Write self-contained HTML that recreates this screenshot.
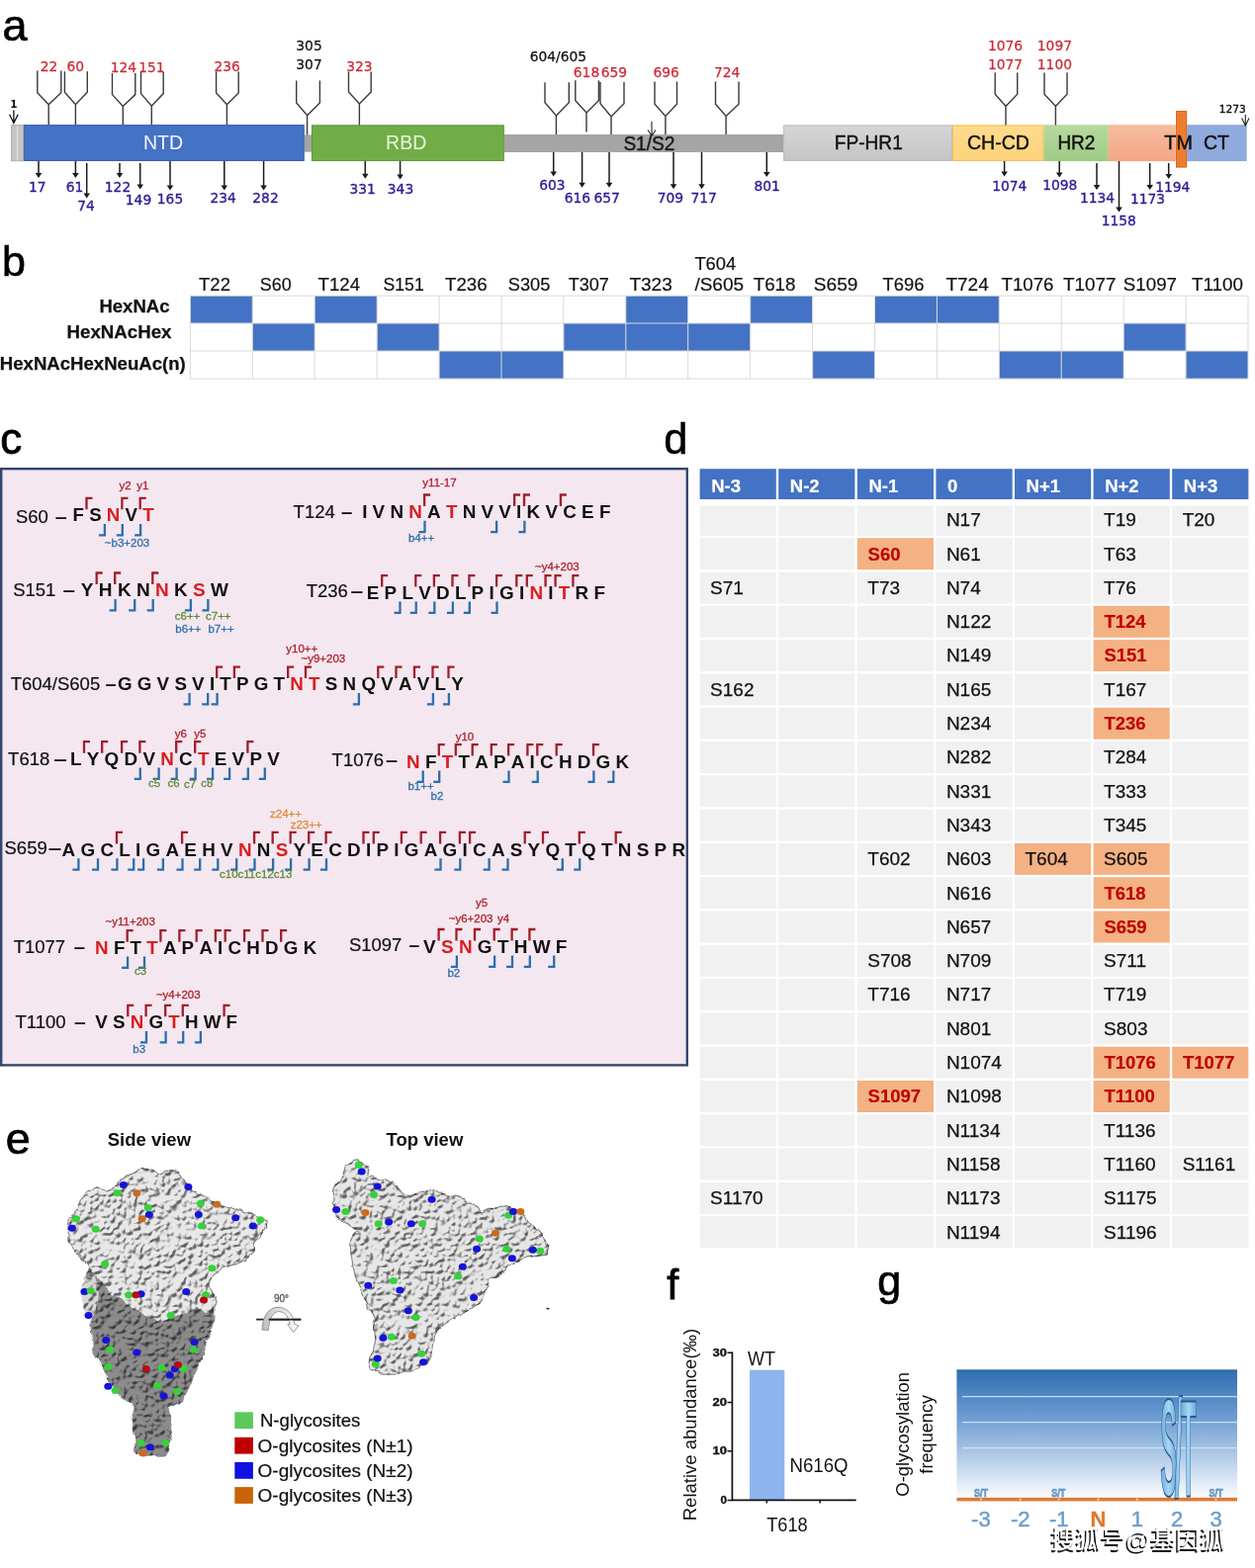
<!DOCTYPE html>
<html><head><meta charset="utf-8"><title>Figure</title>
<style>
html,body{margin:0;padding:0;background:#fff;width:1269px;height:1586px;overflow:hidden}
svg{display:block;font-family:"Liberation Sans",Arial,Helvetica,sans-serif}
</style></head><body>
<svg width="1269" height="1586" viewBox="0 0 1269 1586">
<rect width="1269" height="1586" fill="#fff"/>
<text x="2.6" y="41.3" font-size="45" fill="#000" stroke="#000" stroke-width="0.7">a</text>
<defs><linearGradient id="gfp" x1="0" y1="0" x2="0" y2="1"><stop offset="0" stop-color="#d6d6d6"/><stop offset="1" stop-color="#c4c4c4"/></linearGradient><linearGradient id="gch" x1="0" y1="0" x2="0" y2="1"><stop offset="0" stop-color="#fedc8e"/><stop offset="1" stop-color="#fdd27a"/></linearGradient><linearGradient id="ghr" x1="0" y1="0" x2="0" y2="1"><stop offset="0" stop-color="#b7d99f"/><stop offset="1" stop-color="#9fcb84"/></linearGradient><linearGradient id="gsa" x1="0" y1="0" x2="0" y2="1"><stop offset="0" stop-color="#f6bca0"/><stop offset="1" stop-color="#f4a684"/></linearGradient></defs>
<rect x="11" y="126.2" width="12.7" height="36.8" fill="#c4c4c4"/>
<rect x="23.7" y="126.2" width="283.9" height="36.8" fill="#4472c4"/>
<rect x="307.6" y="136.4" width="7.6" height="17.3" fill="#a5a5a5"/>
<rect x="315" y="126.5" width="194.7" height="36.5" fill="#70ad47"/>
<rect x="509.7" y="136" width="282.5" height="18" fill="#a5a5a5"/>
<rect x="792.1" y="126.5" width="171" height="36.5" fill="url(#gfp)"/>
<rect x="963" y="126.4" width="92.3" height="36.6" fill="url(#gch)"/>
<rect x="1055.3" y="126.2" width="65.6" height="36.9" fill="url(#ghr)"/>
<rect x="1120.9" y="126.2" width="68" height="36.9" fill="url(#gsa)"/>
<rect x="1200.1" y="126.2" width="60.5" height="36.9" fill="#8faadc"/>
<rect x="24.2" y="126.7" width="282.9" height="35.8" fill="none" stroke="#3a62ad" stroke-width="1"/>
<rect x="315.5" y="127" width="193.7" height="35.5" fill="none" stroke="#5f9a3a" stroke-width="1"/>
<rect x="792.6" y="127" width="170" height="35.5" fill="none" stroke="#bdbdbd" stroke-width="1"/>
<rect x="963.5" y="127" width="91.3" height="35.5" fill="none" stroke="#f2c25a" stroke-width="1"/>
<rect x="11.5" y="126.7" width="12" height="36" fill="none" stroke="#b0b0b0" stroke-width="1"/>
<line x1="17.5" y1="127" x2="17.5" y2="162.5" stroke="#d6d6d6" stroke-width="2"/>
<rect x="1189" y="112" width="11.1" height="57.4" fill="#ed7d31"/>
<rect x="1189.5" y="112.5" width="10.1" height="56.4" fill="none" stroke="#d86a22" stroke-width="1"/>
<text x="165.0" y="151.3" font-size="19.5" fill="#f2f6ff" text-anchor="middle">NTD</text>
<text x="410.7" y="150.9" font-size="19.5" fill="#e8f6dc" text-anchor="middle">RBD</text>
<text x="656.4" y="151.7" font-size="19.5" fill="#1a1a1a" stroke="#1a1a1a" stroke-width="0.45" text-anchor="middle" textLength="52" lengthAdjust="spacingAndGlyphs">S1/S2</text>
<text x="878.3" y="151.2" font-size="19.5" fill="#111" stroke="#111" stroke-width="0.4" text-anchor="middle" textLength="69" lengthAdjust="spacingAndGlyphs">FP-HR1</text>
<text x="1009.4" y="151.0" font-size="19.5" fill="#111" stroke="#111" stroke-width="0.4" text-anchor="middle" textLength="63" lengthAdjust="spacingAndGlyphs">CH-CD</text>
<text x="1088.4" y="151.4" font-size="19.5" fill="#111" stroke="#111" stroke-width="0.45" text-anchor="middle" textLength="38" lengthAdjust="spacingAndGlyphs">HR2</text>
<text x="1191.6" y="151.4" font-size="19.5" fill="#111" stroke="#111" stroke-width="0.45" text-anchor="middle" textLength="28.5" lengthAdjust="spacingAndGlyphs">TM</text>
<text x="1230.0" y="151.4" font-size="19.5" fill="#111" stroke="#111" stroke-width="0.45" text-anchor="middle" textLength="26" lengthAdjust="spacingAndGlyphs">CT</text>
<path d="M49.2,126V105.7M37.8,71.6V93.7L49.2,105.7L61.8,93.7V71.6 M76.4,126V105.7M65.4,72.2V93.3L76.4,105.7L88.3,93.3V72.2 M124.3,126V107.5M113.5,74V95.6L124.3,107.5L136.8,95.6V74 M153.3,126V107.2M142.5,73.1V94.6L153.3,107.2L165.2,94.6V73.1 M229.4,126V105.8M218.6,72.4V94L229.4,105.8L241.2,94V72.4 M310.6,136.4V116.7M299.7,81.6V103.9L310.6,116.7L323.4,103.9V81.6 M363.4,126.5V104.9M352.5,72.4V93L363.4,104.9L375.2,93V72.4 M562.4,136V117M551,83.3V103.8L562.4,117L575.3,103.8V83.3 M593,133.5V114M581.8,81.2V101.7L593,114L605.4,101.7V81.2 M618,136V118M607,82.9V104.8L618,118L631,104.8V82.9 M672.9,136V117.5M662,82.6V105.2L672.9,117.5L684.5,105.2V82.6 M734.1,136V117.5M723.5,82.6V105.2L734.1,117.5L747,105.2V82.6 M1017,126.4V107.5M1006.2,73.5V95.2L1017,107.5L1028.7,95.2V73.5 M1067.4,126.4V107.5M1056,73.5V95.2L1067.4,107.5L1079,95.2V73.5" fill="none" stroke="#3a3a3a" stroke-width="1.4"/>
<text x="49.6" y="72.3" font-size="13.8" fill="#cc2a36" stroke="#cc2a36" stroke-width="0.25" text-anchor="middle" font-family="'DejaVu Sans',sans-serif">22</text>
<text x="76.3" y="72.3" font-size="13.8" fill="#cc2a36" stroke="#cc2a36" stroke-width="0.25" text-anchor="middle" font-family="'DejaVu Sans',sans-serif">60</text>
<text x="124.8" y="72.5" font-size="13.8" fill="#cc2a36" stroke="#cc2a36" stroke-width="0.25" text-anchor="middle" font-family="'DejaVu Sans',sans-serif">124</text>
<text x="153.3" y="72.5" font-size="13.8" fill="#cc2a36" stroke="#cc2a36" stroke-width="0.25" text-anchor="middle" font-family="'DejaVu Sans',sans-serif">151</text>
<text x="229.6" y="72.4" font-size="13.8" fill="#cc2a36" stroke="#cc2a36" stroke-width="0.25" text-anchor="middle" font-family="'DejaVu Sans',sans-serif">236</text>
<text x="363.4" y="72.4" font-size="13.8" fill="#cc2a36" stroke="#cc2a36" stroke-width="0.25" text-anchor="middle" font-family="'DejaVu Sans',sans-serif">323</text>
<text x="312.5" y="51.3" font-size="13.8" fill="#111" stroke="#111" stroke-width="0.25" text-anchor="middle" font-family="'DejaVu Sans',sans-serif">305</text>
<text x="312.5" y="70.4" font-size="13.8" fill="#111" stroke="#111" stroke-width="0.25" text-anchor="middle" font-family="'DejaVu Sans',sans-serif">307</text>
<text x="564.4" y="62.4" font-size="13.8" fill="#111" stroke="#111" stroke-width="0.25" text-anchor="middle" font-family="'DejaVu Sans',sans-serif">604/605</text>
<text x="593.0" y="77.5" font-size="13.8" fill="#cc2a36" stroke="#cc2a36" stroke-width="0.25" text-anchor="middle" font-family="'DejaVu Sans',sans-serif">618</text>
<text x="620.8" y="77.5" font-size="13.8" fill="#cc2a36" stroke="#cc2a36" stroke-width="0.25" text-anchor="middle" font-family="'DejaVu Sans',sans-serif">659</text>
<text x="673.7" y="77.9" font-size="13.8" fill="#cc2a36" stroke="#cc2a36" stroke-width="0.25" text-anchor="middle" font-family="'DejaVu Sans',sans-serif">696</text>
<text x="735.2" y="77.9" font-size="13.8" fill="#cc2a36" stroke="#cc2a36" stroke-width="0.25" text-anchor="middle" font-family="'DejaVu Sans',sans-serif">724</text>
<text x="1016.5" y="51.4" font-size="13.8" fill="#cc2a36" stroke="#cc2a36" stroke-width="0.25" text-anchor="middle" font-family="'DejaVu Sans',sans-serif">1076</text>
<text x="1016.5" y="70.1" font-size="13.8" fill="#cc2a36" stroke="#cc2a36" stroke-width="0.25" text-anchor="middle" font-family="'DejaVu Sans',sans-serif">1077</text>
<text x="1066.4" y="51.4" font-size="13.8" fill="#cc2a36" stroke="#cc2a36" stroke-width="0.25" text-anchor="middle" font-family="'DejaVu Sans',sans-serif">1097</text>
<text x="1066.4" y="70.1" font-size="13.8" fill="#cc2a36" stroke="#cc2a36" stroke-width="0.25" text-anchor="middle" font-family="'DejaVu Sans',sans-serif">1100</text>
<text x="13.9" y="109.4" font-size="10.5" fill="#111" text-anchor="middle" font-weight="bold" font-family="'DejaVu Sans',sans-serif">1</text>
<path d="M13.9,111.5V124.5M9.6,115.8L13.9,124.5L18.2,115.8" fill="none" stroke="#111" stroke-width="1.3"/>
<text x="1246.3" y="114.4" font-size="10.5" fill="#111" stroke="#111" stroke-width="0.4" text-anchor="middle" textLength="27" lengthAdjust="spacingAndGlyphs" font-family="'DejaVu Sans',sans-serif">1273</text>
<path d="M1259.3,116V127M1255.6,119.5L1259.3,127L1263,119.5" fill="none" stroke="#222" stroke-width="1.1"/>
<path d="M659,123V137.3M655,131.5L659,137.3L663,131.5" fill="none" stroke="#222" stroke-width="1.1"/>
<text x="37.8" y="194.0" font-size="13.8" fill="#2b1e96" stroke="#2b1e96" stroke-width="0.35" text-anchor="middle" font-family="'DejaVu Sans',sans-serif">17</text>
<text x="75.6" y="194.0" font-size="13.8" fill="#2b1e96" stroke="#2b1e96" stroke-width="0.35" text-anchor="middle" font-family="'DejaVu Sans',sans-serif">61</text>
<text x="87.0" y="213.0" font-size="13.8" fill="#2b1e96" stroke="#2b1e96" stroke-width="0.35" text-anchor="middle" font-family="'DejaVu Sans',sans-serif">74</text>
<text x="119.0" y="194.0" font-size="13.8" fill="#2b1e96" stroke="#2b1e96" stroke-width="0.35" text-anchor="middle" font-family="'DejaVu Sans',sans-serif">122</text>
<text x="140.0" y="206.8" font-size="13.8" fill="#2b1e96" stroke="#2b1e96" stroke-width="0.35" text-anchor="middle" font-family="'DejaVu Sans',sans-serif">149</text>
<text x="172.0" y="206.0" font-size="13.8" fill="#2b1e96" stroke="#2b1e96" stroke-width="0.35" text-anchor="middle" font-family="'DejaVu Sans',sans-serif">165</text>
<text x="225.7" y="205.0" font-size="13.8" fill="#2b1e96" stroke="#2b1e96" stroke-width="0.35" text-anchor="middle" font-family="'DejaVu Sans',sans-serif">234</text>
<text x="268.5" y="205.0" font-size="13.8" fill="#2b1e96" stroke="#2b1e96" stroke-width="0.35" text-anchor="middle" font-family="'DejaVu Sans',sans-serif">282</text>
<text x="366.7" y="196.0" font-size="13.8" fill="#2b1e96" stroke="#2b1e96" stroke-width="0.35" text-anchor="middle" font-family="'DejaVu Sans',sans-serif">331</text>
<text x="405.0" y="196.0" font-size="13.8" fill="#2b1e96" stroke="#2b1e96" stroke-width="0.35" text-anchor="middle" font-family="'DejaVu Sans',sans-serif">343</text>
<text x="558.3" y="191.9" font-size="13.8" fill="#2b1e96" stroke="#2b1e96" stroke-width="0.35" text-anchor="middle" font-family="'DejaVu Sans',sans-serif">603</text>
<text x="583.9" y="205.2" font-size="13.8" fill="#2b1e96" stroke="#2b1e96" stroke-width="0.35" text-anchor="middle" font-family="'DejaVu Sans',sans-serif">616</text>
<text x="613.6" y="205.2" font-size="13.8" fill="#2b1e96" stroke="#2b1e96" stroke-width="0.35" text-anchor="middle" font-family="'DejaVu Sans',sans-serif">657</text>
<text x="677.8" y="205.0" font-size="13.8" fill="#2b1e96" stroke="#2b1e96" stroke-width="0.35" text-anchor="middle" font-family="'DejaVu Sans',sans-serif">709</text>
<text x="711.6" y="205.0" font-size="13.8" fill="#2b1e96" stroke="#2b1e96" stroke-width="0.35" text-anchor="middle" font-family="'DejaVu Sans',sans-serif">717</text>
<text x="775.7" y="192.7" font-size="13.8" fill="#2b1e96" stroke="#2b1e96" stroke-width="0.35" text-anchor="middle" font-family="'DejaVu Sans',sans-serif">801</text>
<text x="1020.7" y="193.0" font-size="13.8" fill="#2b1e96" stroke="#2b1e96" stroke-width="0.35" text-anchor="middle" font-family="'DejaVu Sans',sans-serif">1074</text>
<text x="1071.7" y="192.2" font-size="13.8" fill="#2b1e96" stroke="#2b1e96" stroke-width="0.35" text-anchor="middle" font-family="'DejaVu Sans',sans-serif">1098</text>
<text x="1109.5" y="205.0" font-size="13.8" fill="#2b1e96" stroke="#2b1e96" stroke-width="0.35" text-anchor="middle" font-family="'DejaVu Sans',sans-serif">1134</text>
<text x="1131.2" y="228.0" font-size="13.8" fill="#2b1e96" stroke="#2b1e96" stroke-width="0.35" text-anchor="middle" font-family="'DejaVu Sans',sans-serif">1158</text>
<text x="1160.6" y="205.5" font-size="13.8" fill="#2b1e96" stroke="#2b1e96" stroke-width="0.35" text-anchor="middle" font-family="'DejaVu Sans',sans-serif">1173</text>
<text x="1185.8" y="194.3" font-size="13.8" fill="#2b1e96" stroke="#2b1e96" stroke-width="0.35" text-anchor="middle" font-family="'DejaVu Sans',sans-serif">1194</text>
<path d="M39,163V176 M76.4,163V176 M87.7,165V196.5 M121,165V176 M141.7,165V187.6 M172,163V188.5 M226.8,163V188.5 M266.6,163V188.5 M369.3,163V176.7 M404.6,163V177.6 M559.7,154V174.6 M588.6,154V185.8 M616,154V185.8 M681,154V187.2 M709.5,154V187.2 M775.3,154V175 M1015.6,163V174.4 M1071.2,163V175.4 M1109,165V188 M1131.5,163V210.5 M1162.7,165V188 M1181.7,165V177" stroke="#1a1a1a" stroke-width="1.5" fill="none"/>
<path d="M35.7,175L42.3,175L39,180Z M73.10000000000001,175L79.7,175L76.4,180Z M84.4,195.5L91.0,195.5L87.7,200.5Z M117.7,175L124.3,175L121,180Z M138.39999999999998,186.6L145.0,186.6L141.7,191.6Z M168.7,187.5L175.3,187.5L172,192.5Z M223.5,187.5L230.10000000000002,187.5L226.8,192.5Z M263.3,187.5L269.90000000000003,187.5L266.6,192.5Z M366.0,175.7L372.6,175.7L369.3,180.7Z M401.3,176.6L407.90000000000003,176.6L404.6,181.6Z M556.4000000000001,173.6L563.0,173.6L559.7,178.6Z M585.3000000000001,184.8L591.9,184.8L588.6,189.8Z M612.7,184.8L619.3,184.8L616,189.8Z M677.7,186.2L684.3,186.2L681,191.2Z M706.2,186.2L712.8,186.2L709.5,191.2Z M772.0,174L778.5999999999999,174L775.3,179Z M1012.3000000000001,173.4L1018.9,173.4L1015.6,178.4Z M1067.9,174.4L1074.5,174.4L1071.2,179.4Z M1105.7,187L1112.3,187L1109,192Z M1128.2,209.5L1134.8,209.5L1131.5,214.5Z M1159.4,187L1166.0,187L1162.7,192Z M1178.4,176L1185.0,176L1181.7,181Z" fill="#1a1a1a"/>
<text x="2.0" y="279.4" font-size="43" fill="#000" stroke="#000" stroke-width="0.6">b</text>
<rect x="192.4" y="299.2" width="62.9" height="27.8" fill="#4472c4"/>
<rect x="318.2" y="299.2" width="62.9" height="27.8" fill="#4472c4"/>
<rect x="632.8" y="299.2" width="62.9" height="27.8" fill="#4472c4"/>
<rect x="758.7" y="299.2" width="62.9" height="27.8" fill="#4472c4"/>
<rect x="884.5" y="299.2" width="62.9" height="27.8" fill="#4472c4"/>
<rect x="947.4" y="299.2" width="62.9" height="27.8" fill="#4472c4"/>
<rect x="255.3" y="327.0" width="62.9" height="28.0" fill="#4472c4"/>
<rect x="381.2" y="327.0" width="62.9" height="28.0" fill="#4472c4"/>
<rect x="569.9" y="327.0" width="62.9" height="28.0" fill="#4472c4"/>
<rect x="632.8" y="327.0" width="62.9" height="28.0" fill="#4472c4"/>
<rect x="695.7" y="327.0" width="62.9" height="28.0" fill="#4472c4"/>
<rect x="1136.2" y="327.0" width="62.9" height="28.0" fill="#4472c4"/>
<rect x="444.1" y="355.0" width="62.9" height="28.1" fill="#4472c4"/>
<rect x="507.0" y="355.0" width="62.9" height="28.1" fill="#4472c4"/>
<rect x="821.6" y="355.0" width="62.9" height="28.1" fill="#4472c4"/>
<rect x="1010.3" y="355.0" width="62.9" height="28.1" fill="#4472c4"/>
<rect x="1073.2" y="355.0" width="62.9" height="28.1" fill="#4472c4"/>
<rect x="1199.1" y="355.0" width="62.9" height="28.1" fill="#4472c4"/>
<path d="M192.4,299.2V383.1 M255.3,299.2V383.1 M318.2,299.2V383.1 M381.2,299.2V383.1 M444.1,299.2V383.1 M507.0,299.2V383.1 M569.9,299.2V383.1 M632.8,299.2V383.1 M695.7,299.2V383.1 M758.7,299.2V383.1 M821.6,299.2V383.1 M884.5,299.2V383.1 M947.4,299.2V383.1 M1010.3,299.2V383.1 M1073.2,299.2V383.1 M1136.2,299.2V383.1 M1199.1,299.2V383.1 M1262.0,299.2V383.1 M192.4,299.2H1262 M192.4,327H1262 M192.4,355H1262 M192.4,383.1H1262" stroke="#d9d9d9" stroke-width="1" fill="none"/>
<text x="217.0" y="294.0" font-size="19" fill="#111" stroke="#111" stroke-width="0.2" text-anchor="middle" textLength="31.900000000000002" lengthAdjust="spacingAndGlyphs">T22</text>
<text x="278.8" y="294.0" font-size="19" fill="#111" stroke="#111" stroke-width="0.2" text-anchor="middle" textLength="31.900000000000002" lengthAdjust="spacingAndGlyphs">S60</text>
<text x="342.8" y="294.0" font-size="19" fill="#111" stroke="#111" stroke-width="0.2" text-anchor="middle" textLength="42.5" lengthAdjust="spacingAndGlyphs">T124</text>
<text x="408.1" y="294.0" font-size="19" fill="#111" stroke="#111" stroke-width="0.2" text-anchor="middle" textLength="41.199999999999996" lengthAdjust="spacingAndGlyphs">S151</text>
<text x="471.3" y="294.0" font-size="19" fill="#111" stroke="#111" stroke-width="0.2" text-anchor="middle" textLength="42.5" lengthAdjust="spacingAndGlyphs">T236</text>
<text x="535.1" y="294.0" font-size="19" fill="#111" stroke="#111" stroke-width="0.2" text-anchor="middle" textLength="42.5" lengthAdjust="spacingAndGlyphs">S305</text>
<text x="595.3" y="294.0" font-size="19" fill="#111" stroke="#111" stroke-width="0.2" text-anchor="middle" textLength="41.199999999999996" lengthAdjust="spacingAndGlyphs">T307</text>
<text x="658.1" y="294.0" font-size="19" fill="#111" stroke="#111" stroke-width="0.2" text-anchor="middle" textLength="43.4" lengthAdjust="spacingAndGlyphs">T323</text>
<text x="723.3" y="273.4" font-size="19" fill="#111" stroke="#111" stroke-width="0.2" text-anchor="middle" textLength="41.8" lengthAdjust="spacingAndGlyphs">T604</text>
<text x="727.2" y="294.0" font-size="19" fill="#111" stroke="#111" stroke-width="0.2" text-anchor="middle" textLength="49.6" lengthAdjust="spacingAndGlyphs">/S605</text>
<text x="783.1" y="294.0" font-size="19" fill="#111" stroke="#111" stroke-width="0.2" text-anchor="middle" textLength="42.8" lengthAdjust="spacingAndGlyphs">T618</text>
<text x="845.1" y="294.0" font-size="19" fill="#111" stroke="#111" stroke-width="0.2" text-anchor="middle" textLength="44.599999999999994" lengthAdjust="spacingAndGlyphs">S659</text>
<text x="913.5" y="294.0" font-size="19" fill="#111" stroke="#111" stroke-width="0.2" text-anchor="middle" textLength="41.9" lengthAdjust="spacingAndGlyphs">T696</text>
<text x="978.1" y="294.0" font-size="19" fill="#111" stroke="#111" stroke-width="0.2" text-anchor="middle" textLength="43.199999999999996" lengthAdjust="spacingAndGlyphs">T724</text>
<text x="1039.0" y="294.0" font-size="19" fill="#111" stroke="#111" stroke-width="0.2" text-anchor="middle" textLength="52.8" lengthAdjust="spacingAndGlyphs">T1076</text>
<text x="1101.7" y="294.0" font-size="19" fill="#111" stroke="#111" stroke-width="0.2" text-anchor="middle" textLength="53.3" lengthAdjust="spacingAndGlyphs">T1077</text>
<text x="1162.9" y="294.0" font-size="19" fill="#111" stroke="#111" stroke-width="0.2" text-anchor="middle" textLength="54.099999999999994" lengthAdjust="spacingAndGlyphs">S1097</text>
<text x="1231.0" y="294.0" font-size="19" fill="#111" stroke="#111" stroke-width="0.2" text-anchor="middle" textLength="51.9" lengthAdjust="spacingAndGlyphs">T1100</text>
<text x="171.5" y="316.0" font-size="18.5" fill="#111" stroke="#111" stroke-width="0.25" text-anchor="end" font-weight="bold" textLength="71.1" lengthAdjust="spacingAndGlyphs">HexNAc</text>
<text x="173.5" y="342.0" font-size="18.5" fill="#111" stroke="#111" stroke-width="0.25" text-anchor="end" font-weight="bold" textLength="105.9" lengthAdjust="spacingAndGlyphs">HexNAcHex</text>
<text x="187.8" y="373.5" font-size="18.5" fill="#111" stroke="#111" stroke-width="0.25" text-anchor="end" font-weight="bold" textLength="188" lengthAdjust="spacingAndGlyphs">HexNAcHexNeuAc(n)</text>
<text x="0.2" y="458.8" font-size="44" fill="#000" stroke="#000" stroke-width="0.8">c</text>
<rect x="1.2" y="474.2" width="693.6" height="603.2" fill="#f4e7ef" stroke="#34476e" stroke-width="2.4"/>
<text x="15.9" y="528.5" font-size="18.5" fill="#111" stroke="#111" stroke-width="0.2">S60</text>
<text x="55.7" y="528.5" font-size="18.5" font-weight="bold" fill="#111" textLength="12.0" lengthAdjust="spacingAndGlyphs">–</text>
<text x="73.5 90.2 126.6" y="527.4" font-size="18.71" font-weight="bold" fill="#111">FSV</text>
<text x="107.8 144.2" y="527.4" font-size="18.71" font-weight="bold" fill="#d91e22">NT</text>
<path d="M93.5,503.8H87.5V515.3 M129.4,503.8H123.4V515.3 M147.7,503.8H141.7V515.3" fill="none" stroke="#a01e2c" stroke-width="2.3"/>
<path d="M105.9,530.0V541.4H99.9 M123.8,530.0V541.4H117.8 M142.1,530.0V541.4H136.1" fill="none" stroke="#2a6eae" stroke-width="2.3"/>
<text x="126.6" y="495.0" font-size="11.5" fill="#b0222e" stroke="#b0222e" stroke-width="0.3" text-anchor="middle">y2</text>
<text x="144.3" y="495.0" font-size="11.5" fill="#b0222e" stroke="#b0222e" stroke-width="0.3" text-anchor="middle">y1</text>
<text x="105.8" y="552.9" font-size="11.5" fill="#2f6fae" stroke="#2f6fae" stroke-width="0.3">~b3+203</text>
<text x="296.6" y="523.8" font-size="18.5" fill="#111" stroke="#111" stroke-width="0.2">T124</text>
<text x="344.9" y="523.8" font-size="18.5" font-weight="bold" fill="#111" textLength="11.4" lengthAdjust="spacingAndGlyphs">–</text>
<text x="366.2 376.6 394.4 432.1 467.7 486.5 504.3 522.1 532.6 551.4 569.2 588.1 605.9" y="524.2" font-size="18.84" font-weight="bold" fill="#111">IVNANVVIKVCEF</text>
<text x="413.3 450.9" y="524.2" font-size="18.84" font-weight="bold" fill="#d91e22">NT</text>
<path d="M435.1,500.5H429.1V512.0 M526.1,500.5H520.1V512.0 M536.0,500.5H530.0V512.0 M572.9,500.5H566.9V512.0" fill="none" stroke="#a01e2c" stroke-width="2.3"/>
<path d="M429.5,526.8V538.2H423.5 M502.1,526.8V538.2H496.1 M530.4,526.8V538.2H524.4" fill="none" stroke="#2a6eae" stroke-width="2.3"/>
<text x="444.5" y="492.0" font-size="11.5" fill="#b0222e" stroke="#b0222e" stroke-width="0.3" text-anchor="middle">y11-17</text>
<text x="426.0" y="548.0" font-size="11.5" fill="#2f6fae" stroke="#2f6fae" stroke-width="0.3" text-anchor="middle">b4++</text>
<text x="13.2" y="603.3" font-size="18.5" fill="#111" stroke="#111" stroke-width="0.2">S151</text>
<text x="63.5" y="603.3" font-size="18.5" font-weight="bold" fill="#111" textLength="12.5" lengthAdjust="spacingAndGlyphs">–</text>
<text x="81.8 99.8 118.9 137.9 176.0 213.0" y="603.3" font-size="19.03" font-weight="bold" fill="#111">YHKNKW</text>
<text x="156.9 195.0" y="603.3" font-size="19.03" font-weight="bold" fill="#d91e22">NS</text>
<path d="M103.7,579.5H97.7V591.0 M122.2,579.5H116.2V591.0 M160.3,579.5H154.3V591.0" fill="none" stroke="#a01e2c" stroke-width="2.3"/>
<path d="M116.6,605.9V617.3H110.6 M136.2,605.9V617.3H130.2 M154.7,605.9V617.3H148.7 M192.9,605.9V617.3H186.9 M210.4,605.9V617.3H204.4" fill="none" stroke="#2a6eae" stroke-width="2.3"/>
<text x="176.8" y="627.0" font-size="11.5" fill="#5e8a3c" stroke="#5e8a3c" stroke-width="0.3">c6++</text>
<text x="208.0" y="627.0" font-size="11.5" fill="#5e8a3c" stroke="#5e8a3c" stroke-width="0.3">c7++</text>
<text x="177.3" y="640.4" font-size="11.5" fill="#2f6fae" stroke="#2f6fae" stroke-width="0.3">b6++</text>
<text x="210.4" y="640.4" font-size="11.5" fill="#2f6fae" stroke="#2f6fae" stroke-width="0.3">b7++</text>
<text x="309.7" y="604.2" font-size="18.5" fill="#111" stroke="#111" stroke-width="0.2">T236</text>
<text x="354.6" y="604.2" font-size="18.5" font-weight="bold" fill="#111" textLength="12.7" lengthAdjust="spacingAndGlyphs">–</text>
<text x="370.7 388.6 406.4 423.2 441.0 459.9 476.6 494.5 505.0 524.9 554.2 581.5 600.4" y="605.8" font-size="18.87" font-weight="bold" fill="#111">EPLVDLPIGIIRF</text>
<text x="535.4 564.7" y="605.8" font-size="18.87" font-weight="bold" fill="#d91e22">NT</text>
<path d="M392.2,582.1H386.2V593.6 M426.3,582.1H420.3V593.6 M444.9,582.1H438.9V593.6 M463.5,582.1H457.5V593.6 M480.4,582.1H474.4V593.6 M508.1,582.1H502.1V593.6 M528.3,582.1H522.3V593.6 M538.8,582.1H532.8V593.6 M557.6,582.1H551.6V593.6 M567.6,582.1H561.6V593.6 M585.4,582.1H579.4V593.6" fill="none" stroke="#a01e2c" stroke-width="2.3"/>
<path d="M404.5,608.4V619.8H398.5 M420.7,608.4V619.8H414.7 M439.3,608.4V619.8H433.3 M457.9,608.4V619.8H451.9 M474.8,608.4V619.8H468.8 M502.5,608.4V619.8H496.5" fill="none" stroke="#2a6eae" stroke-width="2.3"/>
<text x="541.0" y="576.6" font-size="11.5" fill="#b0222e" stroke="#b0222e" stroke-width="0.3">~y4+203</text>
<text x="10.7" y="697.6" font-size="18.5" fill="#111" stroke="#111" stroke-width="0.2">T604/S605</text>
<text x="106.5" y="697.6" font-size="18.5" font-weight="bold" fill="#111" textLength="11.1" lengthAdjust="spacingAndGlyphs">–</text>
<text x="118.9 138.8 158.6 176.4 194.1 211.9 222.3 239.0 256.8 276.6 328.8 346.6 365.4 385.2 403.0 421.8 439.5 456.2" y="698.3" font-size="18.79" font-weight="bold" fill="#111">GGVSVITPGTSNQVAVLY</text>
<text x="293.3 312.1" y="698.3" font-size="18.79" font-weight="bold" fill="#d91e22">NT</text>
<path d="M225.2,674.6H219.2V686.1 M242.9,674.6H236.9V686.1 M297.2,674.6H291.2V686.1 M315.0,674.6H309.0V686.1 M388.3,674.6H382.3V686.1 M406.5,674.6H400.5V686.1 M425.0,674.6H419.0V686.1 M443.5,674.6H437.5V686.1 M459.5,674.6H453.5V686.1" fill="none" stroke="#a01e2c" stroke-width="2.3"/>
<path d="M191.6,700.9V712.3H185.6 M210.2,700.9V712.3H204.2 M219.6,700.9V712.3H213.6 M362.9,700.9V712.3H356.9 M437.9,700.9V712.3H431.9 M453.9,700.9V712.3H447.9" fill="none" stroke="#2a6eae" stroke-width="2.3"/>
<text x="289.3" y="659.7" font-size="11.5" fill="#b0222e" stroke="#b0222e" stroke-width="0.3">y10++</text>
<text x="304.5" y="669.5" font-size="11.5" fill="#b0222e" stroke="#b0222e" stroke-width="0.3">~y9+203</text>
<text x="8.1" y="773.9" font-size="18.5" fill="#111" stroke="#111" stroke-width="0.2">T618</text>
<text x="54.3" y="773.9" font-size="18.5" font-weight="bold" fill="#111" textLength="13.6" lengthAdjust="spacingAndGlyphs">–</text>
<text x="71.0 87.7 105.6 125.5 144.4 181.1 216.8 234.6 252.5 270.3" y="773.9" font-size="18.88" font-weight="bold" fill="#111">LYQDVCEVPV</text>
<text x="162.2 200.0" y="773.9" font-size="18.88" font-weight="bold" fill="#d91e22">NT</text>
<path d="M91.0,750.2H85.0V761.7 M109.2,750.2H103.2V761.7 M129.1,750.2H123.1V761.7 M147.4,750.2H141.4V761.7 M184.2,750.2H178.2V761.7 M203.2,750.2H197.2V761.7 M256.4,750.2H250.4V761.7" fill="none" stroke="#a01e2c" stroke-width="2.3"/>
<path d="M141.8,776.5V787.9H135.8 M160.6,776.5V787.9H154.6 M178.6,776.5V787.9H172.6 M197.6,776.5V787.9H191.6 M215.1,776.5V787.9H209.1 M232.1,776.5V787.9H226.1 M250.8,776.5V787.9H244.8 M267.8,776.5V787.9H261.8" fill="none" stroke="#2a6eae" stroke-width="2.3"/>
<text x="182.8" y="745.8" font-size="11.5" fill="#b0222e" stroke="#b0222e" stroke-width="0.3" text-anchor="middle">y6</text>
<text x="202.3" y="745.8" font-size="11.5" fill="#b0222e" stroke="#b0222e" stroke-width="0.3" text-anchor="middle">y5</text>
<text x="156.0" y="795.7" font-size="11.5" fill="#5e8a3c" stroke="#5e8a3c" stroke-width="0.3" text-anchor="middle">c5</text>
<text x="175.6" y="795.7" font-size="11.5" fill="#5e8a3c" stroke="#5e8a3c" stroke-width="0.3" text-anchor="middle">c6</text>
<text x="192.0" y="797.0" font-size="11.5" fill="#5e8a3c" stroke="#5e8a3c" stroke-width="0.3" text-anchor="middle">c7</text>
<text x="209.4" y="795.7" font-size="11.5" fill="#5e8a3c" stroke="#5e8a3c" stroke-width="0.3" text-anchor="middle">c8</text>
<text x="335.6" y="775.4" font-size="18.5" fill="#111" stroke="#111" stroke-width="0.2">T1076</text>
<text x="389.9" y="775.4" font-size="18.5" font-weight="bold" fill="#111" textLength="12.1" lengthAdjust="spacingAndGlyphs">–</text>
<text x="430.0 463.4 480.2 499.0 516.8 535.6 546.1 564.9 583.8 602.6 622.5" y="776.8" font-size="18.84" font-weight="bold" fill="#111">FTAPAICHDGK</text>
<text x="411.1 446.7" y="776.8" font-size="18.84" font-weight="bold" fill="#d91e22">NT</text>
<path d="M449.8,753.1H443.8V764.6 M466.8,753.1H460.8V764.6 M483.7,753.1H477.7V764.6 M502.8,753.1H496.8V764.6 M520.1,753.1H514.1V764.6 M539.4,753.1H533.4V764.6 M549.3,753.1H543.3V764.6 M568.7,753.1H562.7V764.6 M606.0,753.1H600.0V764.6" fill="none" stroke="#a01e2c" stroke-width="2.3"/>
<path d="M427.7,779.4V790.8H421.7 M444.2,779.4V790.8H438.2 M514.5,779.4V790.8H508.5 M543.7,779.4V790.8H537.7 M600.4,779.4V790.8H594.4 M620.3,779.4V790.8H614.3" fill="none" stroke="#2a6eae" stroke-width="2.3"/>
<text x="470.0" y="749.0" font-size="11.5" fill="#b0222e" stroke="#b0222e" stroke-width="0.3" text-anchor="middle">y10</text>
<text x="412.4" y="798.7" font-size="11.5" fill="#2f6fae" stroke="#2f6fae" stroke-width="0.3">b1++</text>
<text x="442.0" y="808.6" font-size="11.5" fill="#2f6fae" stroke="#2f6fae" stroke-width="0.3" text-anchor="middle">b2</text>
<text x="4.5" y="863.8" font-size="18.5" fill="#111" stroke="#111" stroke-width="0.2">S659</text>
<text x="48.8" y="863.8" font-size="18.5" font-weight="bold" fill="#111" textLength="13.5" lengthAdjust="spacingAndGlyphs">–</text>
<text x="62.6 81.4 101.4 120.3 137.0 147.5 167.5 186.3 204.2 223.1 259.8 296.5 314.3 332.2 351.0 369.9 380.4 398.3 408.7 428.7 447.6 467.5 478.0 496.9 515.7 533.6 551.4 571.3 588.1 608.1 624.8 643.7 661.6 679.4" y="865.6" font-size="18.88" font-weight="bold" fill="#111">AGCLIGAEHVNYECDIPIGAGICASYQTQTNSPR</text>
<text x="240.9 278.7" y="865.6" font-size="18.88" font-weight="bold" fill="#d91e22">NS</text>
<path d="M124.0,841.9H118.0V853.4 M190.1,841.9H184.1V853.4 M263.1,841.9H257.1V853.4 M281.7,841.9H275.7V853.4 M299.7,841.9H293.7V853.4 M318.2,841.9H312.2V853.4 M335.6,841.9H329.6V853.4 M373.5,841.9H367.5V853.4 M383.8,841.9H377.8V853.4 M411.9,841.9H405.9V853.4 M431.7,841.9H425.7V853.4 M451.1,841.9H445.1V853.4 M470.9,841.9H464.9V853.4 M481.1,841.9H475.1V853.4 M536.7,841.9H530.7V853.4 M555.0,841.9H549.0V853.4 M591.8,841.9H585.8V853.4 M628.7,841.9H622.7V853.4" fill="none" stroke="#a01e2c" stroke-width="2.3"/>
<path d="M79.4,868.2V879.6H73.4 M99.0,868.2V879.6H93.0 M118.4,868.2V879.6H112.4 M135.2,868.2V879.6H129.2 M145.1,868.2V879.6H139.1 M164.9,868.2V879.6H158.9 M184.5,868.2V879.6H178.5 M202.2,868.2V879.6H196.2 M220.3,868.2V879.6H214.3 M239.2,868.2V879.6H233.2 M257.5,868.2V879.6H251.5 M276.1,868.2V879.6H270.1 M294.1,868.2V879.6H288.1 M312.6,868.2V879.6H306.6 M330.0,868.2V879.6H324.0 M445.5,868.2V879.6H439.5 M465.3,868.2V879.6H459.3 M494.6,868.2V879.6H488.6 M513.5,868.2V879.6H507.5 M568.8,868.2V879.6H562.8 M586.2,868.2V879.6H580.2" fill="none" stroke="#2a6eae" stroke-width="2.3"/>
<text x="273.0" y="827.1" font-size="11.5" fill="#e08a3c" stroke="#e08a3c" stroke-width="0.3">z24++</text>
<text x="293.7" y="838.4" font-size="11.5" fill="#e08a3c" stroke="#e08a3c" stroke-width="0.3">z23++</text>
<text x="222.0" y="888.0" font-size="11.5" fill="#5e8a3c" stroke="#5e8a3c" stroke-width="0.3">c10c11c12c13</text>
<text x="13.7" y="964.3" font-size="18.5" fill="#111" stroke="#111" stroke-width="0.2">T1077</text>
<text x="74.7" y="964.3" font-size="18.5" font-weight="bold" fill="#111" textLength="11.3" lengthAdjust="spacingAndGlyphs">–</text>
<text x="114.9 131.5 164.9 183.6 201.4 220.1 230.6 249.3 268.1 286.8 306.7" y="964.8" font-size="18.76" font-weight="bold" fill="#111">FTAPAICHDGK</text>
<text x="96.1 148.2" y="964.8" font-size="18.76" font-weight="bold" fill="#d91e22">NT</text>
<path d="M134.7,941.2H128.7V952.7 M168.4,941.2H162.4V952.7 M187.4,941.2H181.4V952.7 M204.7,941.2H198.7V952.7 M223.9,941.2H217.9V952.7 M233.7,941.2H227.7V952.7 M253.1,941.2H247.1V952.7 M271.5,941.2H265.5V952.7 M290.2,941.2H284.2V952.7" fill="none" stroke="#a01e2c" stroke-width="2.3"/>
<path d="M129.1,967.4V978.8H123.1 M146.0,967.4V978.8H140.0" fill="none" stroke="#2a6eae" stroke-width="2.3"/>
<text x="106.6" y="936.2" font-size="11.5" fill="#b0222e" stroke="#b0222e" stroke-width="0.3">~y11+203</text>
<text x="142.0" y="985.7" font-size="11.5" fill="#5e8a3c" stroke="#5e8a3c" stroke-width="0.3" text-anchor="middle">c3</text>
<text x="352.9" y="962.0" font-size="18.5" fill="#111" stroke="#111" stroke-width="0.2">S1097</text>
<text x="413.5" y="962.0" font-size="18.5" font-weight="bold" fill="#111" textLength="10.8" lengthAdjust="spacingAndGlyphs">–</text>
<text x="428.1 482.8 502.9 519.7 538.7 561.8" y="963.8" font-size="18.96" font-weight="bold" fill="#111">VGTHWF</text>
<text x="446.0 463.9" y="963.8" font-size="18.96" font-weight="bold" fill="#d91e22">SN</text>
<path d="M449.6,940.0H443.6V951.5 M467.5,940.0H461.5V951.5 M486.0,940.0H480.0V951.5 M505.7,940.0H499.7V951.5 M523.6,940.0H517.6V951.5 M541.4,940.0H535.4V951.5" fill="none" stroke="#a01e2c" stroke-width="2.3"/>
<path d="M461.9,966.4V977.8H455.9 M500.1,966.4V977.8H494.1 M518.0,966.4V977.8H512.0 M535.8,966.4V977.8H529.8 M560.2,966.4V977.8H554.2" fill="none" stroke="#2a6eae" stroke-width="2.3"/>
<text x="487.1" y="917.4" font-size="11.5" fill="#b0222e" stroke="#b0222e" stroke-width="0.3" text-anchor="middle">y5</text>
<text x="453.7" y="932.8" font-size="11.5" fill="#b0222e" stroke="#b0222e" stroke-width="0.3">~y6+203</text>
<text x="509.0" y="932.8" font-size="11.5" fill="#b0222e" stroke="#b0222e" stroke-width="0.3" text-anchor="middle">y4</text>
<text x="458.8" y="987.7" font-size="11.5" fill="#2f6fae" stroke="#2f6fae" stroke-width="0.3" text-anchor="middle">b2</text>
<text x="15.5" y="1040.4" font-size="18.5" fill="#111" stroke="#111" stroke-width="0.2">T1100</text>
<text x="74.9" y="1040.4" font-size="18.5" font-weight="bold" fill="#111" textLength="11.7" lengthAdjust="spacingAndGlyphs">–</text>
<text x="96.2 114.0 150.4 186.9 205.7 228.6" y="1040.4" font-size="18.76" font-weight="bold" fill="#111">VSGHWF</text>
<text x="131.7 170.2" y="1040.4" font-size="18.76" font-weight="bold" fill="#d91e22">NT</text>
<path d="M135.3,1016.8H129.3V1028.3 M153.6,1016.8H147.6V1028.3 M173.2,1016.8H167.2V1028.3 M190.8,1016.8H184.8V1028.3 M232.6,1016.8H226.6V1028.3" fill="none" stroke="#a01e2c" stroke-width="2.3"/>
<path d="M148.0,1043.0V1054.4H142.0 M167.6,1043.0V1054.4H161.6 M185.2,1043.0V1054.4H179.2 M202.9,1043.0V1054.4H196.9" fill="none" stroke="#2a6eae" stroke-width="2.3"/>
<text x="157.9" y="1009.6" font-size="11.5" fill="#b0222e" stroke="#b0222e" stroke-width="0.3">~y4+203</text>
<text x="140.7" y="1064.5" font-size="11.5" fill="#2f6fae" stroke="#2f6fae" stroke-width="0.3" text-anchor="middle">b3</text>
<text x="671.2" y="459.0" font-size="43.5" fill="#000" stroke="#000" stroke-width="0.5">d</text>
<rect x="707.6" y="474.2" width="77.2" height="30.8" fill="#4472c4"/>
<text x="719.2" y="497.8" font-size="18.5" fill="#fff" stroke="#fff" stroke-width="0.2" font-weight="bold">N-3</text>
<rect x="787.2" y="474.2" width="77.2" height="30.8" fill="#4472c4"/>
<text x="798.8" y="497.8" font-size="18.5" fill="#fff" stroke="#fff" stroke-width="0.2" font-weight="bold">N-2</text>
<rect x="866.8" y="474.2" width="77.2" height="30.8" fill="#4472c4"/>
<text x="878.4" y="497.8" font-size="18.5" fill="#fff" stroke="#fff" stroke-width="0.2" font-weight="bold">N-1</text>
<rect x="946.4" y="474.2" width="77.2" height="30.8" fill="#4472c4"/>
<text x="958.0" y="497.8" font-size="18.5" fill="#fff" stroke="#fff" stroke-width="0.2" font-weight="bold">0</text>
<rect x="1026.0" y="474.2" width="77.2" height="30.8" fill="#4472c4"/>
<text x="1037.6" y="497.8" font-size="18.5" fill="#fff" stroke="#fff" stroke-width="0.2" font-weight="bold">N+1</text>
<rect x="1105.6" y="474.2" width="77.2" height="30.8" fill="#4472c4"/>
<text x="1117.2" y="497.8" font-size="18.5" fill="#fff" stroke="#fff" stroke-width="0.2" font-weight="bold">N+2</text>
<rect x="1185.2" y="474.2" width="77.2" height="30.8" fill="#4472c4"/>
<text x="1196.8" y="497.8" font-size="18.5" fill="#fff" stroke="#fff" stroke-width="0.2" font-weight="bold">N+3</text>
<rect x="707.6" y="511.6" width="77.2" height="30.3" fill="#f1f1f1"/>
<rect x="787.2" y="511.6" width="77.2" height="30.3" fill="#f1f1f1"/>
<rect x="866.8" y="511.6" width="77.2" height="30.3" fill="#f1f1f1"/>
<rect x="946.4" y="511.6" width="77.2" height="30.3" fill="#f1f1f1"/>
<text x="956.9" y="532.3" font-size="19" fill="#111" stroke="#111" stroke-width="0.25">N17</text>
<rect x="1026.0" y="511.6" width="77.2" height="30.3" fill="#f1f1f1"/>
<rect x="1105.6" y="511.6" width="77.2" height="30.3" fill="#f1f1f1"/>
<text x="1116.1" y="532.3" font-size="19" fill="#111" stroke="#111" stroke-width="0.25">T19</text>
<rect x="1185.2" y="511.6" width="77.2" height="30.3" fill="#f1f1f1"/>
<text x="1195.7" y="532.3" font-size="19" fill="#111" stroke="#111" stroke-width="0.25">T20</text>
<rect x="707.6" y="544.2" width="77.2" height="32.0" fill="#f1f1f1"/>
<rect x="787.2" y="544.2" width="77.2" height="32.0" fill="#f1f1f1"/>
<rect x="866.8" y="544.2" width="77.2" height="32.0" fill="#f4b183"/>
<text x="877.6" y="566.5" font-size="18.5" fill="#c00000" stroke="#c00000" stroke-width="0.15" font-weight="bold">S60</text>
<rect x="946.4" y="544.2" width="77.2" height="32.0" fill="#f1f1f1"/>
<text x="956.9" y="566.5" font-size="19" fill="#111" stroke="#111" stroke-width="0.25">N61</text>
<rect x="1026.0" y="544.2" width="77.2" height="32.0" fill="#f1f1f1"/>
<rect x="1105.6" y="544.2" width="77.2" height="32.0" fill="#f1f1f1"/>
<text x="1116.1" y="566.5" font-size="19" fill="#111" stroke="#111" stroke-width="0.25">T63</text>
<rect x="1185.2" y="544.2" width="77.2" height="32.0" fill="#f1f1f1"/>
<rect x="707.6" y="578.5" width="77.2" height="32.0" fill="#f1f1f1"/>
<text x="718.1" y="600.8" font-size="19" fill="#111" stroke="#111" stroke-width="0.25">S71</text>
<rect x="787.2" y="578.5" width="77.2" height="32.0" fill="#f1f1f1"/>
<rect x="866.8" y="578.5" width="77.2" height="32.0" fill="#f1f1f1"/>
<text x="877.3" y="600.8" font-size="19" fill="#111" stroke="#111" stroke-width="0.25">T73</text>
<rect x="946.4" y="578.5" width="77.2" height="32.0" fill="#f1f1f1"/>
<text x="956.9" y="600.8" font-size="19" fill="#111" stroke="#111" stroke-width="0.25">N74</text>
<rect x="1026.0" y="578.5" width="77.2" height="32.0" fill="#f1f1f1"/>
<rect x="1105.6" y="578.5" width="77.2" height="32.0" fill="#f1f1f1"/>
<text x="1116.1" y="600.8" font-size="19" fill="#111" stroke="#111" stroke-width="0.25">T76</text>
<rect x="1185.2" y="578.5" width="77.2" height="32.0" fill="#f1f1f1"/>
<rect x="707.6" y="612.8" width="77.2" height="32.0" fill="#f1f1f1"/>
<rect x="787.2" y="612.8" width="77.2" height="32.0" fill="#f1f1f1"/>
<rect x="866.8" y="612.8" width="77.2" height="32.0" fill="#f1f1f1"/>
<rect x="946.4" y="612.8" width="77.2" height="32.0" fill="#f1f1f1"/>
<text x="956.9" y="635.1" font-size="19" fill="#111" stroke="#111" stroke-width="0.25">N122</text>
<rect x="1026.0" y="612.8" width="77.2" height="32.0" fill="#f1f1f1"/>
<rect x="1105.6" y="612.8" width="77.2" height="32.0" fill="#f4b183"/>
<text x="1116.4" y="635.1" font-size="18.5" fill="#c00000" stroke="#c00000" stroke-width="0.15" font-weight="bold">T124</text>
<rect x="1185.2" y="612.8" width="77.2" height="32.0" fill="#f1f1f1"/>
<rect x="707.6" y="647.1" width="77.2" height="32.0" fill="#f1f1f1"/>
<rect x="787.2" y="647.1" width="77.2" height="32.0" fill="#f1f1f1"/>
<rect x="866.8" y="647.1" width="77.2" height="32.0" fill="#f1f1f1"/>
<rect x="946.4" y="647.1" width="77.2" height="32.0" fill="#f1f1f1"/>
<text x="956.9" y="669.4" font-size="19" fill="#111" stroke="#111" stroke-width="0.25">N149</text>
<rect x="1026.0" y="647.1" width="77.2" height="32.0" fill="#f1f1f1"/>
<rect x="1105.6" y="647.1" width="77.2" height="32.0" fill="#f4b183"/>
<text x="1116.4" y="669.4" font-size="18.5" fill="#c00000" stroke="#c00000" stroke-width="0.15" font-weight="bold">S151</text>
<rect x="1185.2" y="647.1" width="77.2" height="32.0" fill="#f1f1f1"/>
<rect x="707.6" y="681.4" width="77.2" height="32.0" fill="#f1f1f1"/>
<text x="718.1" y="703.7" font-size="19" fill="#111" stroke="#111" stroke-width="0.25">S162</text>
<rect x="787.2" y="681.4" width="77.2" height="32.0" fill="#f1f1f1"/>
<rect x="866.8" y="681.4" width="77.2" height="32.0" fill="#f1f1f1"/>
<rect x="946.4" y="681.4" width="77.2" height="32.0" fill="#f1f1f1"/>
<text x="956.9" y="703.7" font-size="19" fill="#111" stroke="#111" stroke-width="0.25">N165</text>
<rect x="1026.0" y="681.4" width="77.2" height="32.0" fill="#f1f1f1"/>
<rect x="1105.6" y="681.4" width="77.2" height="32.0" fill="#f1f1f1"/>
<text x="1116.1" y="703.7" font-size="19" fill="#111" stroke="#111" stroke-width="0.25">T167</text>
<rect x="1185.2" y="681.4" width="77.2" height="32.0" fill="#f1f1f1"/>
<rect x="707.6" y="715.7" width="77.2" height="32.0" fill="#f1f1f1"/>
<rect x="787.2" y="715.7" width="77.2" height="32.0" fill="#f1f1f1"/>
<rect x="866.8" y="715.7" width="77.2" height="32.0" fill="#f1f1f1"/>
<rect x="946.4" y="715.7" width="77.2" height="32.0" fill="#f1f1f1"/>
<text x="956.9" y="738.0" font-size="19" fill="#111" stroke="#111" stroke-width="0.25">N234</text>
<rect x="1026.0" y="715.7" width="77.2" height="32.0" fill="#f1f1f1"/>
<rect x="1105.6" y="715.7" width="77.2" height="32.0" fill="#f4b183"/>
<text x="1116.4" y="738.0" font-size="18.5" fill="#c00000" stroke="#c00000" stroke-width="0.15" font-weight="bold">T236</text>
<rect x="1185.2" y="715.7" width="77.2" height="32.0" fill="#f1f1f1"/>
<rect x="707.6" y="750.0" width="77.2" height="32.0" fill="#f1f1f1"/>
<rect x="787.2" y="750.0" width="77.2" height="32.0" fill="#f1f1f1"/>
<rect x="866.8" y="750.0" width="77.2" height="32.0" fill="#f1f1f1"/>
<rect x="946.4" y="750.0" width="77.2" height="32.0" fill="#f1f1f1"/>
<text x="956.9" y="772.3" font-size="19" fill="#111" stroke="#111" stroke-width="0.25">N282</text>
<rect x="1026.0" y="750.0" width="77.2" height="32.0" fill="#f1f1f1"/>
<rect x="1105.6" y="750.0" width="77.2" height="32.0" fill="#f1f1f1"/>
<text x="1116.1" y="772.3" font-size="19" fill="#111" stroke="#111" stroke-width="0.25">T284</text>
<rect x="1185.2" y="750.0" width="77.2" height="32.0" fill="#f1f1f1"/>
<rect x="707.6" y="784.3" width="77.2" height="32.0" fill="#f1f1f1"/>
<rect x="787.2" y="784.3" width="77.2" height="32.0" fill="#f1f1f1"/>
<rect x="866.8" y="784.3" width="77.2" height="32.0" fill="#f1f1f1"/>
<rect x="946.4" y="784.3" width="77.2" height="32.0" fill="#f1f1f1"/>
<text x="956.9" y="806.6" font-size="19" fill="#111" stroke="#111" stroke-width="0.25">N331</text>
<rect x="1026.0" y="784.3" width="77.2" height="32.0" fill="#f1f1f1"/>
<rect x="1105.6" y="784.3" width="77.2" height="32.0" fill="#f1f1f1"/>
<text x="1116.1" y="806.6" font-size="19" fill="#111" stroke="#111" stroke-width="0.25">T333</text>
<rect x="1185.2" y="784.3" width="77.2" height="32.0" fill="#f1f1f1"/>
<rect x="707.6" y="818.6" width="77.2" height="32.0" fill="#f1f1f1"/>
<rect x="787.2" y="818.6" width="77.2" height="32.0" fill="#f1f1f1"/>
<rect x="866.8" y="818.6" width="77.2" height="32.0" fill="#f1f1f1"/>
<rect x="946.4" y="818.6" width="77.2" height="32.0" fill="#f1f1f1"/>
<text x="956.9" y="840.9" font-size="19" fill="#111" stroke="#111" stroke-width="0.25">N343</text>
<rect x="1026.0" y="818.6" width="77.2" height="32.0" fill="#f1f1f1"/>
<rect x="1105.6" y="818.6" width="77.2" height="32.0" fill="#f1f1f1"/>
<text x="1116.1" y="840.9" font-size="19" fill="#111" stroke="#111" stroke-width="0.25">T345</text>
<rect x="1185.2" y="818.6" width="77.2" height="32.0" fill="#f1f1f1"/>
<rect x="707.6" y="852.9" width="77.2" height="32.0" fill="#f1f1f1"/>
<rect x="787.2" y="852.9" width="77.2" height="32.0" fill="#f1f1f1"/>
<rect x="866.8" y="852.9" width="77.2" height="32.0" fill="#f1f1f1"/>
<text x="877.3" y="875.2" font-size="19" fill="#111" stroke="#111" stroke-width="0.25">T602</text>
<rect x="946.4" y="852.9" width="77.2" height="32.0" fill="#f1f1f1"/>
<text x="956.9" y="875.2" font-size="19" fill="#111" stroke="#111" stroke-width="0.25">N603</text>
<rect x="1026.0" y="852.9" width="77.2" height="32.0" fill="#f4b183"/>
<text x="1036.5" y="875.2" font-size="19" fill="#111" stroke="#111" stroke-width="0.25">T604</text>
<rect x="1105.6" y="852.9" width="77.2" height="32.0" fill="#f4b183"/>
<text x="1116.1" y="875.2" font-size="19" fill="#111" stroke="#111" stroke-width="0.25">S605</text>
<rect x="1185.2" y="852.9" width="77.2" height="32.0" fill="#f1f1f1"/>
<rect x="707.6" y="887.2" width="77.2" height="32.0" fill="#f1f1f1"/>
<rect x="787.2" y="887.2" width="77.2" height="32.0" fill="#f1f1f1"/>
<rect x="866.8" y="887.2" width="77.2" height="32.0" fill="#f1f1f1"/>
<rect x="946.4" y="887.2" width="77.2" height="32.0" fill="#f1f1f1"/>
<text x="956.9" y="909.5" font-size="19" fill="#111" stroke="#111" stroke-width="0.25">N616</text>
<rect x="1026.0" y="887.2" width="77.2" height="32.0" fill="#f1f1f1"/>
<rect x="1105.6" y="887.2" width="77.2" height="32.0" fill="#f4b183"/>
<text x="1116.4" y="909.5" font-size="18.5" fill="#c00000" stroke="#c00000" stroke-width="0.15" font-weight="bold">T618</text>
<rect x="1185.2" y="887.2" width="77.2" height="32.0" fill="#f1f1f1"/>
<rect x="707.6" y="921.5" width="77.2" height="32.0" fill="#f1f1f1"/>
<rect x="787.2" y="921.5" width="77.2" height="32.0" fill="#f1f1f1"/>
<rect x="866.8" y="921.5" width="77.2" height="32.0" fill="#f1f1f1"/>
<rect x="946.4" y="921.5" width="77.2" height="32.0" fill="#f1f1f1"/>
<text x="956.9" y="943.8" font-size="19" fill="#111" stroke="#111" stroke-width="0.25">N657</text>
<rect x="1026.0" y="921.5" width="77.2" height="32.0" fill="#f1f1f1"/>
<rect x="1105.6" y="921.5" width="77.2" height="32.0" fill="#f4b183"/>
<text x="1116.4" y="943.8" font-size="18.5" fill="#c00000" stroke="#c00000" stroke-width="0.15" font-weight="bold">S659</text>
<rect x="1185.2" y="921.5" width="77.2" height="32.0" fill="#f1f1f1"/>
<rect x="707.6" y="955.8" width="77.2" height="32.0" fill="#f1f1f1"/>
<rect x="787.2" y="955.8" width="77.2" height="32.0" fill="#f1f1f1"/>
<rect x="866.8" y="955.8" width="77.2" height="32.0" fill="#f1f1f1"/>
<text x="877.3" y="978.1" font-size="19" fill="#111" stroke="#111" stroke-width="0.25">S708</text>
<rect x="946.4" y="955.8" width="77.2" height="32.0" fill="#f1f1f1"/>
<text x="956.9" y="978.1" font-size="19" fill="#111" stroke="#111" stroke-width="0.25">N709</text>
<rect x="1026.0" y="955.8" width="77.2" height="32.0" fill="#f1f1f1"/>
<rect x="1105.6" y="955.8" width="77.2" height="32.0" fill="#f1f1f1"/>
<text x="1116.1" y="978.1" font-size="19" fill="#111" stroke="#111" stroke-width="0.25">S711</text>
<rect x="1185.2" y="955.8" width="77.2" height="32.0" fill="#f1f1f1"/>
<rect x="707.6" y="990.1" width="77.2" height="32.0" fill="#f1f1f1"/>
<rect x="787.2" y="990.1" width="77.2" height="32.0" fill="#f1f1f1"/>
<rect x="866.8" y="990.1" width="77.2" height="32.0" fill="#f1f1f1"/>
<text x="877.3" y="1012.4" font-size="19" fill="#111" stroke="#111" stroke-width="0.25">T716</text>
<rect x="946.4" y="990.1" width="77.2" height="32.0" fill="#f1f1f1"/>
<text x="956.9" y="1012.4" font-size="19" fill="#111" stroke="#111" stroke-width="0.25">N717</text>
<rect x="1026.0" y="990.1" width="77.2" height="32.0" fill="#f1f1f1"/>
<rect x="1105.6" y="990.1" width="77.2" height="32.0" fill="#f1f1f1"/>
<text x="1116.1" y="1012.4" font-size="19" fill="#111" stroke="#111" stroke-width="0.25">T719</text>
<rect x="1185.2" y="990.1" width="77.2" height="32.0" fill="#f1f1f1"/>
<rect x="707.6" y="1024.4" width="77.2" height="32.0" fill="#f1f1f1"/>
<rect x="787.2" y="1024.4" width="77.2" height="32.0" fill="#f1f1f1"/>
<rect x="866.8" y="1024.4" width="77.2" height="32.0" fill="#f1f1f1"/>
<rect x="946.4" y="1024.4" width="77.2" height="32.0" fill="#f1f1f1"/>
<text x="956.9" y="1046.7" font-size="19" fill="#111" stroke="#111" stroke-width="0.25">N801</text>
<rect x="1026.0" y="1024.4" width="77.2" height="32.0" fill="#f1f1f1"/>
<rect x="1105.6" y="1024.4" width="77.2" height="32.0" fill="#f1f1f1"/>
<text x="1116.1" y="1046.7" font-size="19" fill="#111" stroke="#111" stroke-width="0.25">S803</text>
<rect x="1185.2" y="1024.4" width="77.2" height="32.0" fill="#f1f1f1"/>
<rect x="707.6" y="1058.7" width="77.2" height="32.0" fill="#f1f1f1"/>
<rect x="787.2" y="1058.7" width="77.2" height="32.0" fill="#f1f1f1"/>
<rect x="866.8" y="1058.7" width="77.2" height="32.0" fill="#f1f1f1"/>
<rect x="946.4" y="1058.7" width="77.2" height="32.0" fill="#f1f1f1"/>
<text x="956.9" y="1081.0" font-size="19" fill="#111" stroke="#111" stroke-width="0.25">N1074</text>
<rect x="1026.0" y="1058.7" width="77.2" height="32.0" fill="#f1f1f1"/>
<rect x="1105.6" y="1058.7" width="77.2" height="32.0" fill="#f4b183"/>
<text x="1116.4" y="1081.0" font-size="18.5" fill="#c00000" stroke="#c00000" stroke-width="0.15" font-weight="bold">T1076</text>
<rect x="1185.2" y="1058.7" width="77.2" height="32.0" fill="#f4b183"/>
<text x="1196.0" y="1081.0" font-size="18.5" fill="#c00000" stroke="#c00000" stroke-width="0.15" font-weight="bold">T1077</text>
<rect x="707.6" y="1093.0" width="77.2" height="32.0" fill="#f1f1f1"/>
<rect x="787.2" y="1093.0" width="77.2" height="32.0" fill="#f1f1f1"/>
<rect x="866.8" y="1093.0" width="77.2" height="32.0" fill="#f4b183"/>
<text x="877.6" y="1115.3" font-size="18.5" fill="#c00000" stroke="#c00000" stroke-width="0.15" font-weight="bold">S1097</text>
<rect x="946.4" y="1093.0" width="77.2" height="32.0" fill="#f1f1f1"/>
<text x="956.9" y="1115.3" font-size="19" fill="#111" stroke="#111" stroke-width="0.25">N1098</text>
<rect x="1026.0" y="1093.0" width="77.2" height="32.0" fill="#f1f1f1"/>
<rect x="1105.6" y="1093.0" width="77.2" height="32.0" fill="#f4b183"/>
<text x="1116.4" y="1115.3" font-size="18.5" fill="#c00000" stroke="#c00000" stroke-width="0.15" font-weight="bold">T1100</text>
<rect x="1185.2" y="1093.0" width="77.2" height="32.0" fill="#f1f1f1"/>
<rect x="707.6" y="1127.3" width="77.2" height="32.0" fill="#f1f1f1"/>
<rect x="787.2" y="1127.3" width="77.2" height="32.0" fill="#f1f1f1"/>
<rect x="866.8" y="1127.3" width="77.2" height="32.0" fill="#f1f1f1"/>
<rect x="946.4" y="1127.3" width="77.2" height="32.0" fill="#f1f1f1"/>
<text x="956.9" y="1149.6" font-size="19" fill="#111" stroke="#111" stroke-width="0.25">N1134</text>
<rect x="1026.0" y="1127.3" width="77.2" height="32.0" fill="#f1f1f1"/>
<rect x="1105.6" y="1127.3" width="77.2" height="32.0" fill="#f1f1f1"/>
<text x="1116.1" y="1149.6" font-size="19" fill="#111" stroke="#111" stroke-width="0.25">T1136</text>
<rect x="1185.2" y="1127.3" width="77.2" height="32.0" fill="#f1f1f1"/>
<rect x="707.6" y="1161.6" width="77.2" height="32.0" fill="#f1f1f1"/>
<rect x="787.2" y="1161.6" width="77.2" height="32.0" fill="#f1f1f1"/>
<rect x="866.8" y="1161.6" width="77.2" height="32.0" fill="#f1f1f1"/>
<rect x="946.4" y="1161.6" width="77.2" height="32.0" fill="#f1f1f1"/>
<text x="956.9" y="1183.9" font-size="19" fill="#111" stroke="#111" stroke-width="0.25">N1158</text>
<rect x="1026.0" y="1161.6" width="77.2" height="32.0" fill="#f1f1f1"/>
<rect x="1105.6" y="1161.6" width="77.2" height="32.0" fill="#f1f1f1"/>
<text x="1116.1" y="1183.9" font-size="19" fill="#111" stroke="#111" stroke-width="0.25">T1160</text>
<rect x="1185.2" y="1161.6" width="77.2" height="32.0" fill="#f1f1f1"/>
<text x="1195.7" y="1183.9" font-size="19" fill="#111" stroke="#111" stroke-width="0.25">S1161</text>
<rect x="707.6" y="1195.9" width="77.2" height="32.0" fill="#f1f1f1"/>
<text x="718.1" y="1218.2" font-size="19" fill="#111" stroke="#111" stroke-width="0.25">S1170</text>
<rect x="787.2" y="1195.9" width="77.2" height="32.0" fill="#f1f1f1"/>
<rect x="866.8" y="1195.9" width="77.2" height="32.0" fill="#f1f1f1"/>
<rect x="946.4" y="1195.9" width="77.2" height="32.0" fill="#f1f1f1"/>
<text x="956.9" y="1218.2" font-size="19" fill="#111" stroke="#111" stroke-width="0.25">N1173</text>
<rect x="1026.0" y="1195.9" width="77.2" height="32.0" fill="#f1f1f1"/>
<rect x="1105.6" y="1195.9" width="77.2" height="32.0" fill="#f1f1f1"/>
<text x="1116.1" y="1218.2" font-size="19" fill="#111" stroke="#111" stroke-width="0.25">S1175</text>
<rect x="1185.2" y="1195.9" width="77.2" height="32.0" fill="#f1f1f1"/>
<rect x="707.6" y="1230.2" width="77.2" height="32.0" fill="#f1f1f1"/>
<rect x="787.2" y="1230.2" width="77.2" height="32.0" fill="#f1f1f1"/>
<rect x="866.8" y="1230.2" width="77.2" height="32.0" fill="#f1f1f1"/>
<rect x="946.4" y="1230.2" width="77.2" height="32.0" fill="#f1f1f1"/>
<text x="956.9" y="1252.5" font-size="19" fill="#111" stroke="#111" stroke-width="0.25">N1194</text>
<rect x="1026.0" y="1230.2" width="77.2" height="32.0" fill="#f1f1f1"/>
<rect x="1105.6" y="1230.2" width="77.2" height="32.0" fill="#f1f1f1"/>
<text x="1116.1" y="1252.5" font-size="19" fill="#111" stroke="#111" stroke-width="0.25">S1196</text>
<rect x="1185.2" y="1230.2" width="77.2" height="32.0" fill="#f1f1f1"/>
<defs>
<filter id="bump" x="-5%" y="-5%" width="110%" height="110%" filterUnits="objectBoundingBox" color-interpolation-filters="sRGB">
<feTurbulence type="fractalNoise" baseFrequency="0.07" numOctaves="2" seed="7" result="dn"/>
<feDisplacementMap in="SourceGraphic" in2="dn" scale="8" xChannelSelector="R" yChannelSelector="G" result="src"/>
<feTurbulence type="fractalNoise" baseFrequency="0.18" numOctaves="2" seed="5" result="n0"/>
<feColorMatrix in="n0" type="matrix" values="0 0 0 0 0  0 0 0 0 0  0 0 0 0 0  1 0 0 0 0" result="na"/>
<feComponentTransfer in="na" result="nt"><feFuncA type="table" tableValues="0 0.2 1 1 0.2 0 0.2 1 1 0.2 0"/></feComponentTransfer>
<feGaussianBlur in="nt" stdDeviation="0.9" result="nb"/>
<feDiffuseLighting in="nb" surfaceScale="3.5" diffuseConstant="1.3" lighting-color="#fff" result="l0"><feDistantLight azimuth="235" elevation="50"/></feDiffuseLighting>
<feComponentTransfer in="l0" result="l"><feFuncR type="linear" slope="0.62" intercept="0.42"/><feFuncG type="linear" slope="0.62" intercept="0.42"/><feFuncB type="linear" slope="0.62" intercept="0.42"/></feComponentTransfer>
<feComposite in="l" in2="src" operator="in" result="lc"/>
<feBlend in="src" in2="lc" mode="multiply"/>
</filter>
<linearGradient id="rotg" x1="0" x2="1" y1="0" y2="0"><stop offset="0" stop-color="#bdbdbd"/><stop offset="0.45" stop-color="#dedede"/><stop offset="1" stop-color="#fafafa"/></linearGradient>
</defs>
<text x="5.8" y="1167.4" font-size="45" fill="#000" stroke="#000" stroke-width="0.7">e</text>
<text x="150.9" y="1159.2" font-size="18.5" fill="#111" text-anchor="middle" font-weight="bold">Side view</text>
<text x="429.4" y="1159.2" font-size="18.5" fill="#111" text-anchor="middle" font-weight="bold">Top view</text>
<g filter="url(#bump)"><path d="M91.3,1280.0 L85.8,1295.5 L84.0,1306.4 L87.6,1319.0 L91.3,1331.8 L91.6,1343.0 L94.7,1368.0 L100.0,1378.0 L105.1,1388.8 L118.6,1409.6 L133.2,1420.0 L134.0,1440.0 L137.4,1467.8 L144.6,1474.0 L156.0,1473.0 L168.6,1472.0 L174.8,1447.0 L170.6,1424.0 L185.2,1415.8 L199.8,1384.6 L205.0,1370.0 L210.1,1357.6 L216.4,1336.8 L216.4,1322.0 L200.0,1315.0 L160.0,1300.0 L120.0,1290.0 Z" fill="#8c8c8c"/><path d="M67.7,1243.0 L69.5,1233.9 L78.6,1224.8 L82.2,1214.0 L89.4,1204.0 L98.5,1202.2 L109.4,1204.0 L116.6,1200.3 L123.9,1192.2 L134.8,1185.8 L143.8,1180.4 L152.9,1182.2 L160.1,1186.8 L169.2,1183.1 L180.1,1185.8 L187.3,1194.0 L194.6,1204.0 L205.4,1210.3 L218.1,1217.6 L232.6,1221.2 L247.1,1226.6 L259.8,1229.3 L268.9,1233.9 L269.8,1241.1 L265.3,1250.2 L256.2,1257.4 L256.2,1266.5 L247.1,1275.6 L236.3,1279.2 L223.6,1282.8 L214.5,1290.1 L210.9,1299.1 L214.5,1308.2 L218.1,1319.1 L214.5,1324.5 L207.3,1328.1 L200.0,1323.5 L182.0,1331.0 L163.8,1339.0 L148.0,1331.0 L133.0,1322.7 L120.0,1314.0 L109.4,1306.4 L96.7,1291.9 L91.3,1284.6 L85.8,1275.6 L76.8,1266.5 L69.5,1255.6 Z" fill="#e8e8e8" stroke="#8a8a8a" stroke-width="1.2"/><path d="M84.0,1292.0 L96.0,1292.0 L100.0,1310.0 L97.0,1330.0 L88.0,1332.0 L83.0,1315.0 Z" fill="#d8d8d8"/></g>
<g filter="url(#bump)"><path d="M349.6,1176.3 L362.8,1173.5 L370.4,1180.1 L374.2,1189.6 L387.4,1193.4 L400.6,1200.0 L406.3,1205.7 L413.9,1208.5 L430.9,1205.7 L446.0,1207.6 L461.2,1211.3 L476.3,1216.1 L485.8,1227.4 L497.1,1221.7 L512.2,1219.8 L525.5,1223.6 L534.9,1235.0 L546.3,1248.2 L554.8,1259.6 L552.0,1269.0 L538.7,1270.9 L525.5,1274.7 L512.2,1282.3 L504.7,1289.8 L495.2,1293.6 L491.4,1305.0 L487.6,1316.3 L476.3,1323.9 L461.2,1331.4 L447.9,1340.9 L438.5,1350.3 L436.6,1365.5 L430.9,1378.7 L419.6,1386.3 L404.4,1390.1 L387.4,1390.1 L374.2,1382.5 L376.1,1371.1 L379.8,1354.1 L378.0,1335.2 L374.2,1325.8 L366.6,1308.7 L359.0,1289.8 L355.3,1270.9 L353.4,1255.8 L360.9,1244.4 L349.6,1236.9 L340.1,1229.3 L336.3,1218.0 L338.2,1202.8 L345.8,1191.5 Z" fill="#e6e6e6" stroke="#8a8a8a" stroke-width="1.2"/></g>
<ellipse cx="124.9" cy="1198.5" rx="4.0" ry="3.5" fill="#1414d8"/>
<ellipse cx="72.9" cy="1242.2" rx="4.0" ry="3.5" fill="#1414d8"/>
<ellipse cx="200.8" cy="1228.6" rx="4.0" ry="3.5" fill="#1414d8"/>
<ellipse cx="255.9" cy="1240.1" rx="4.0" ry="3.5" fill="#1414d8"/>
<ellipse cx="150.9" cy="1228.6" rx="4.0" ry="3.5" fill="#1414d8"/>
<ellipse cx="190.4" cy="1200.6" rx="4.0" ry="3.5" fill="#1414d8"/>
<ellipse cx="238.2" cy="1231.8" rx="4.0" ry="3.5" fill="#1414d8"/>
<ellipse cx="85.4" cy="1306.6" rx="4.0" ry="3.5" fill="#1414d8"/>
<ellipse cx="188.3" cy="1306.6" rx="4.0" ry="3.5" fill="#1414d8"/>
<ellipse cx="89.5" cy="1330.6" rx="4.0" ry="3.5" fill="#1414d8"/>
<ellipse cx="107.2" cy="1355.5" rx="4.0" ry="3.5" fill="#1414d8"/>
<ellipse cx="196.6" cy="1357.6" rx="4.0" ry="3.5" fill="#1414d8"/>
<ellipse cx="138.4" cy="1368.0" rx="4.0" ry="3.5" fill="#1414d8"/>
<ellipse cx="171.7" cy="1390.9" rx="4.0" ry="3.5" fill="#1414d8"/>
<ellipse cx="165.4" cy="1411.7" rx="4.0" ry="3.5" fill="#1414d8"/>
<ellipse cx="109.3" cy="1402.3" rx="4.0" ry="3.5" fill="#1414d8"/>
<ellipse cx="151.9" cy="1463.7" rx="4.0" ry="3.5" fill="#1414d8"/>
<ellipse cx="176.9" cy="1384.6" rx="4.0" ry="3.5" fill="#1414d8"/>
<ellipse cx="142.6" cy="1308.7" rx="4.0" ry="3.5" fill="#1414d8"/>
<ellipse cx="77.0" cy="1232.8" rx="4.0" ry="3.5" fill="#35d23a"/>
<ellipse cx="96.8" cy="1243.2" rx="4.0" ry="3.5" fill="#35d23a"/>
<ellipse cx="118.6" cy="1206.8" rx="4.0" ry="3.5" fill="#35d23a"/>
<ellipse cx="149.8" cy="1221.4" rx="4.0" ry="3.5" fill="#35d23a"/>
<ellipse cx="202.9" cy="1217.2" rx="4.0" ry="3.5" fill="#35d23a"/>
<ellipse cx="203.9" cy="1240.1" rx="4.0" ry="3.5" fill="#35d23a"/>
<ellipse cx="263.2" cy="1233.8" rx="4.0" ry="3.5" fill="#35d23a"/>
<ellipse cx="106.2" cy="1278.6" rx="4.0" ry="3.5" fill="#35d23a"/>
<ellipse cx="214.3" cy="1282.7" rx="4.0" ry="3.5" fill="#35d23a"/>
<ellipse cx="91.6" cy="1305.6" rx="4.0" ry="3.5" fill="#35d23a"/>
<ellipse cx="130.1" cy="1309.8" rx="4.0" ry="3.5" fill="#35d23a"/>
<ellipse cx="172.7" cy="1330.6" rx="4.0" ry="3.5" fill="#35d23a"/>
<ellipse cx="208.1" cy="1309.8" rx="4.0" ry="3.5" fill="#35d23a"/>
<ellipse cx="111.4" cy="1364.9" rx="4.0" ry="3.5" fill="#35d23a"/>
<ellipse cx="109.3" cy="1382.5" rx="4.0" ry="3.5" fill="#35d23a"/>
<ellipse cx="163.4" cy="1383.6" rx="4.0" ry="3.5" fill="#35d23a"/>
<ellipse cx="159.2" cy="1401.3" rx="4.0" ry="3.5" fill="#35d23a"/>
<ellipse cx="179.0" cy="1407.5" rx="4.0" ry="3.5" fill="#35d23a"/>
<ellipse cx="185.2" cy="1384.6" rx="4.0" ry="3.5" fill="#35d23a"/>
<ellipse cx="116.6" cy="1406.5" rx="4.0" ry="3.5" fill="#35d23a"/>
<ellipse cx="142.6" cy="1459.5" rx="4.0" ry="3.5" fill="#35d23a"/>
<ellipse cx="167.5" cy="1459.5" rx="4.0" ry="3.5" fill="#35d23a"/>
<ellipse cx="195.6" cy="1364.9" rx="4.0" ry="3.5" fill="#35d23a"/>
<ellipse cx="137.4" cy="1309.8" rx="4.0" ry="3.5" fill="#b80c10"/>
<ellipse cx="147.8" cy="1384.6" rx="4.0" ry="3.5" fill="#b80c10"/>
<ellipse cx="180.0" cy="1380.5" rx="4.0" ry="3.5" fill="#b80c10"/>
<ellipse cx="206.0" cy="1315.0" rx="4.0" ry="3.5" fill="#b80c10"/>
<ellipse cx="143.6" cy="1232.8" rx="4.0" ry="3.5" fill="#cc6a1c"/>
<ellipse cx="138.4" cy="1206.8" rx="4.0" ry="3.5" fill="#cc6a1c"/>
<ellipse cx="219.5" cy="1218.2" rx="4.0" ry="3.5" fill="#cc6a1c"/>
<ellipse cx="144.6" cy="1470.0" rx="4.0" ry="3.5" fill="#cc6a1c"/>
<ellipse cx="362.8" cy="1178.2" rx="4.0" ry="3.5" fill="#35d23a"/>
<ellipse cx="378.0" cy="1208.5" rx="4.0" ry="3.5" fill="#35d23a"/>
<ellipse cx="349.6" cy="1225.5" rx="4.0" ry="3.5" fill="#35d23a"/>
<ellipse cx="382.7" cy="1237.8" rx="4.0" ry="3.5" fill="#35d23a"/>
<ellipse cx="427.1" cy="1237.8" rx="4.0" ry="3.5" fill="#35d23a"/>
<ellipse cx="514.1" cy="1229.3" rx="4.0" ry="3.5" fill="#35d23a"/>
<ellipse cx="484.8" cy="1252.9" rx="4.0" ry="3.5" fill="#35d23a"/>
<ellipse cx="512.2" cy="1263.3" rx="4.0" ry="3.5" fill="#35d23a"/>
<ellipse cx="546.3" cy="1265.2" rx="4.0" ry="3.5" fill="#35d23a"/>
<ellipse cx="463.1" cy="1290.8" rx="4.0" ry="3.5" fill="#35d23a"/>
<ellipse cx="397.8" cy="1295.5" rx="4.0" ry="3.5" fill="#35d23a"/>
<ellipse cx="420.5" cy="1332.4" rx="4.0" ry="3.5" fill="#35d23a"/>
<ellipse cx="395.9" cy="1352.2" rx="4.0" ry="3.5" fill="#35d23a"/>
<ellipse cx="426.2" cy="1369.3" rx="4.0" ry="3.5" fill="#35d23a"/>
<ellipse cx="379.8" cy="1379.7" rx="4.0" ry="3.5" fill="#35d23a"/>
<ellipse cx="365.7" cy="1184.9" rx="4.0" ry="3.5" fill="#1414d8"/>
<ellipse cx="381.7" cy="1200.0" rx="4.0" ry="3.5" fill="#1414d8"/>
<ellipse cx="340.1" cy="1223.6" rx="4.0" ry="3.5" fill="#1414d8"/>
<ellipse cx="393.1" cy="1235.9" rx="4.0" ry="3.5" fill="#1414d8"/>
<ellipse cx="415.8" cy="1237.8" rx="4.0" ry="3.5" fill="#1414d8"/>
<ellipse cx="436.6" cy="1213.2" rx="4.0" ry="3.5" fill="#1414d8"/>
<ellipse cx="518.9" cy="1225.5" rx="4.0" ry="3.5" fill="#1414d8"/>
<ellipse cx="482.0" cy="1263.3" rx="4.0" ry="3.5" fill="#1414d8"/>
<ellipse cx="517.9" cy="1272.8" rx="4.0" ry="3.5" fill="#1414d8"/>
<ellipse cx="538.7" cy="1264.3" rx="4.0" ry="3.5" fill="#1414d8"/>
<ellipse cx="467.8" cy="1281.3" rx="4.0" ry="3.5" fill="#1414d8"/>
<ellipse cx="372.3" cy="1300.2" rx="4.0" ry="3.5" fill="#1414d8"/>
<ellipse cx="404.4" cy="1305.0" rx="4.0" ry="3.5" fill="#1414d8"/>
<ellipse cx="479.1" cy="1312.5" rx="4.0" ry="3.5" fill="#1414d8"/>
<ellipse cx="412.9" cy="1325.8" rx="4.0" ry="3.5" fill="#1414d8"/>
<ellipse cx="387.4" cy="1353.2" rx="4.0" ry="3.5" fill="#1414d8"/>
<ellipse cx="428.1" cy="1377.8" rx="4.0" ry="3.5" fill="#1414d8"/>
<ellipse cx="381.7" cy="1374.0" rx="4.0" ry="3.5" fill="#1414d8"/>
<ellipse cx="369.4" cy="1226.5" rx="4.0" ry="3.5" fill="#cc6a1c"/>
<ellipse cx="500.9" cy="1247.3" rx="4.0" ry="3.5" fill="#cc6a1c"/>
<ellipse cx="416.7" cy="1351.3" rx="4.0" ry="3.5" fill="#cc6a1c"/>
<ellipse cx="526.4" cy="1225.5" rx="4.0" ry="3.5" fill="#cc6a1c"/>
<path d="M259.1,1334.6H304.3" stroke="#222" stroke-width="1.8"/>
<path d="M265,1345 C265.5,1331 272,1322.3 281,1322.3 C290.5,1322.3 296.5,1330 297.6,1339 L302,1341 L296.5,1347.5 L290.8,1339.6 L293,1339.3 C292,1332 288,1326.6 282,1326.6 C276,1326.6 272.3,1333.5 271.3,1345.5 Z" fill="url(#rotg)" stroke="#8c8c8c" stroke-width="0.9"/>
<path d="M271.6,1334.6H304.3" stroke="#222" stroke-width="1.8"/>
<text x="277.0" y="1316.5" font-size="10" fill="#555" stroke="#555" stroke-width="0.3">90°</text>
<rect x="552.5" y="1322.8" width="3" height="1.6" fill="#333"/>
<rect x="237.3" y="1428.3" width="18.6" height="16.8" fill="#5bc95b"/>
<rect x="237.3" y="1453.8" width="18.6" height="16.8" fill="#c00000"/>
<rect x="237.3" y="1479" width="18.6" height="16.8" fill="#1010e0"/>
<rect x="237.3" y="1504.1" width="18.6" height="16.8" fill="#c8640a"/>
<text x="262.9" y="1443.1" font-size="17.8" fill="#111" stroke="#111" stroke-width="0.2" textLength="101.5" lengthAdjust="spacingAndGlyphs">N-glycosites</text>
<text x="260.6" y="1468.6" font-size="17.8" fill="#111" stroke="#111" stroke-width="0.2" textLength="157" lengthAdjust="spacingAndGlyphs">O-glycosites (N±1)</text>
<text x="260.6" y="1494.0" font-size="17.8" fill="#111" stroke="#111" stroke-width="0.2" textLength="157" lengthAdjust="spacingAndGlyphs">O-glycosites (N±2)</text>
<text x="260.6" y="1519.3" font-size="17.8" fill="#111" stroke="#111" stroke-width="0.2" textLength="157" lengthAdjust="spacingAndGlyphs">O-glycosites (N±3)</text>
<text x="674.3" y="1314.2" font-size="43" fill="#000" stroke="#000" stroke-width="0.8">f</text>
<rect x="758" y="1385.7" width="35.3" height="131.7" fill="#8db5ef"/>
<path d="M740.4,1367.5V1517.4H865.7" fill="none" stroke="#111" stroke-width="1.7"/>
<path d="M735.5,1368.3H740.4M735.5,1418.4H740.4M735.5,1467.8H740.4M735.5,1517.4H740.4M775.3,1517.4V1520.5M829.2,1517.4V1520.5" stroke="#111" stroke-width="1.5"/>
<text x="735.0" y="1371.8" font-size="10" fill="#111" stroke="#111" stroke-width="0.3" text-anchor="end" font-weight="bold" textLength="14.5" lengthAdjust="spacingAndGlyphs">30</text>
<text x="735.0" y="1421.9" font-size="10" fill="#111" stroke="#111" stroke-width="0.3" text-anchor="end" font-weight="bold" textLength="14.5" lengthAdjust="spacingAndGlyphs">20</text>
<text x="735.0" y="1471.3" font-size="10" fill="#111" stroke="#111" stroke-width="0.3" text-anchor="end" font-weight="bold" textLength="14.5" lengthAdjust="spacingAndGlyphs">10</text>
<text x="735.0" y="1520.9" font-size="10" fill="#111" stroke="#111" stroke-width="0.3" text-anchor="end" font-weight="bold" textLength="6.5" lengthAdjust="spacingAndGlyphs">0</text>
<text x="756.0" y="1380.6" font-size="19.5" fill="#111" textLength="28" lengthAdjust="spacingAndGlyphs">WT</text>
<text x="798.5" y="1489.0" font-size="19.5" fill="#111" textLength="59" lengthAdjust="spacingAndGlyphs">N616Q</text>
<text x="775.2" y="1548.8" font-size="19.5" fill="#111" textLength="41.5" lengthAdjust="spacingAndGlyphs">T618</text>
<text transform="translate(703.5,1441) rotate(-90)" font-size="19" fill="#111" text-anchor="middle" textLength="194.5" lengthAdjust="spacingAndGlyphs">Relative abundance(‰)</text>
<text x="887.3" y="1309.8" font-size="43" fill="#000" stroke="#000" stroke-width="0.7">g</text>
<defs><linearGradient id="lg" x1="0" y1="0" x2="0" y2="1">
<stop offset="0" stop-color="#2f6db3"/><stop offset="0.35" stop-color="#6b9bd0"/><stop offset="0.7" stop-color="#b9d0ea"/><stop offset="1" stop-color="#ffffff"/></linearGradient>
<linearGradient id="stg" x1="0" y1="0" x2="1" y2="0"><stop offset="0" stop-color="#6aa8da"/><stop offset="0.5" stop-color="#a9d6f4"/><stop offset="1" stop-color="#6aa8da"/></linearGradient></defs>
<rect x="967.4" y="1385.9" width="283.6" height="131" fill="url(#lg)"/>
<path d="M967.4,1385.9H1251" stroke="#2a5e9e" stroke-width="1"/>
<path d="M973,1412.6H1251" stroke="#cfe6fb" stroke-width="1.3" stroke-opacity="0.9"/>
<path d="M973,1438.6H1251" stroke="#cfe6fb" stroke-width="1.3" stroke-opacity="0.9"/>
<path d="M973,1464.7H1251" stroke="#cfe6fb" stroke-width="1.3" stroke-opacity="0.9"/>
<path d="M973,1490.7H1251" stroke="#cfe6fb" stroke-width="1.3" stroke-opacity="0.9"/>
<rect x="967.4" y="1514.8" width="283.6" height="3.6" fill="#e07a32"/>
<circle cx="991.9" cy="1516.6" r="1.1" fill="#f6d2b6"/>
<circle cx="1031.7" cy="1516.6" r="1.1" fill="#f6d2b6"/>
<circle cx="1070.7" cy="1516.6" r="1.1" fill="#f6d2b6"/>
<circle cx="1110.5" cy="1516.6" r="1.1" fill="#f6d2b6"/>
<circle cx="1149.8" cy="1516.6" r="1.1" fill="#f6d2b6"/>
<circle cx="1190.2" cy="1516.6" r="1.1" fill="#f6d2b6"/>
<circle cx="1229.5" cy="1516.6" r="1.1" fill="#f6d2b6"/>
<g transform="translate(0,1513.5) scale(1,2.33) translate(0,-1513.5)" fill="url(#stg)" stroke="#245c92" stroke-width="0.9" font-weight="bold" font-size="60"><text x="1173.3" y="1513.5" textLength="17" lengthAdjust="spacingAndGlyphs">S</text><text x="1187.6" y="1513.5" textLength="8.5" lengthAdjust="spacingAndGlyphs">/</text><text x="1193.8" y="1513.5" textLength="16" lengthAdjust="spacingAndGlyphs">T</text></g>
<text x="991.9" y="1513.5" font-size="10" font-weight="bold" fill="#7fb3dc" stroke="#3f77ad" stroke-width="0.5" text-anchor="middle" textLength="14" lengthAdjust="spacingAndGlyphs">S/T</text>
<text x="1070.2" y="1513.5" font-size="10" font-weight="bold" fill="#7fb3dc" stroke="#3f77ad" stroke-width="0.5" text-anchor="middle" textLength="14" lengthAdjust="spacingAndGlyphs">S/T</text>
<text x="1229.5" y="1513.5" font-size="10" font-weight="bold" fill="#7fb3dc" stroke="#3f77ad" stroke-width="0.5" text-anchor="middle" textLength="14" lengthAdjust="spacingAndGlyphs">S/T</text>
<text x="991.9" y="1544.4" font-size="22" fill="#6f9fcb" stroke="#6f9fcb" stroke-width="0.5" text-anchor="middle">-3</text>
<text x="1031.7" y="1544.4" font-size="22" fill="#6f9fcb" stroke="#6f9fcb" stroke-width="0.5" text-anchor="middle">-2</text>
<text x="1070.7" y="1544.4" font-size="22" fill="#6f9fcb" stroke="#6f9fcb" stroke-width="0.5" text-anchor="middle">-1</text>
<text x="1149.8" y="1544.4" font-size="22" fill="#6f9fcb" stroke="#6f9fcb" stroke-width="0.5" text-anchor="middle">1</text>
<text x="1190.2" y="1544.4" font-size="22" fill="#6f9fcb" stroke="#6f9fcb" stroke-width="0.5" text-anchor="middle">2</text>
<text x="1229.5" y="1544.4" font-size="22" fill="#6f9fcb" stroke="#6f9fcb" stroke-width="0.5" text-anchor="middle">3</text>
<text x="1110.5" y="1544.4" font-size="22" fill="#e0782c" stroke="#e0782c" stroke-width="0.3" text-anchor="middle" font-weight="bold">N</text>
<text transform="translate(918.5,1450.8) rotate(-90)" font-size="18.5" fill="#111" text-anchor="middle" textLength="125.7" lengthAdjust="spacingAndGlyphs">O-glycosylation</text>
<text transform="translate(942.5,1450.8) rotate(-90)" font-size="18.5" fill="#111" text-anchor="middle" textLength="79.7" lengthAdjust="spacingAndGlyphs">frequency</text>
<text x="1061.2" y="1567.6" font-size="24.5" font-weight="500" fill="#111" textLength="176.3" lengthAdjust="spacingAndGlyphs" font-family="'Liberation Sans','Noto Sans CJK SC','WenQuanYi Zen Hei',sans-serif">搜狐号@基因狐</text>
<text x="1062.6" y="1566.4" font-size="24.5" font-weight="500" fill="#fff" textLength="176.3" lengthAdjust="spacingAndGlyphs" font-family="'Liberation Sans','Noto Sans CJK SC','WenQuanYi Zen Hei',sans-serif">搜狐号@基因狐</text>
</svg>
</body></html>
